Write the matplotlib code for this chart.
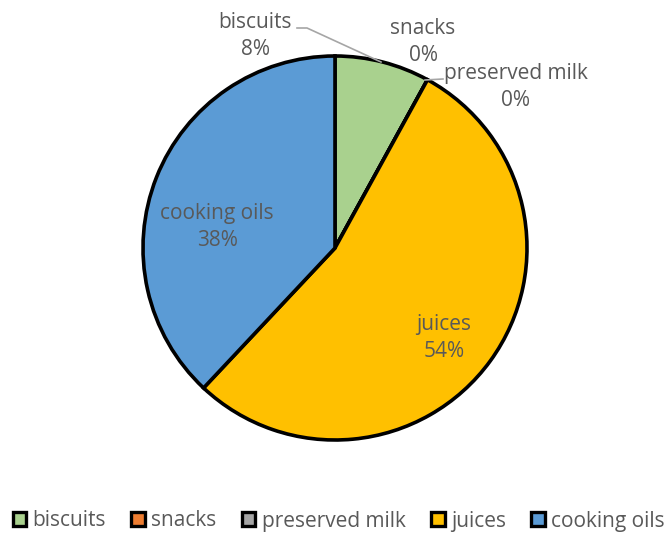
import matplotlib
matplotlib.use("Agg")
import matplotlib.pyplot as plt
from matplotlib.patches import Patch

categories = ["biscuits", "snacks", "preserved milk", "juices", "cooking oils"]
values = [8, 0, 0, 54, 38]
colors = ["#A9D18E", "#ED7D31", "#A5A5A5", "#FFC000", "#5B9BD5"]

W, H = 668, 533
fig = plt.figure(figsize=(W / 100, H / 100), dpi=100)
ax = fig.add_axes([0, 0, 1, 1])
ax.set_xlim(0, W)
ax.set_ylim(0, H)
ax.set_aspect("equal")
ax.axis("off")

cx, cy, r = 335, H - 248, 192
ax.pie(values, colors=colors, startangle=90, counterclock=False,
       center=(cx, cy), radius=r,
       wedgeprops=dict(edgecolor="black", linewidth=2.6))
ax.set_xlim(0, W)
ax.set_ylim(0, H)

txt = "#595959"
font = ["Open Sans", "DejaVu Sans"]
fs = 15
total = sum(values)
label_pos = {
    "biscuits": (255, 36),
    "snacks": (423, 42),
    "preserved milk": (516, 87),
    "juices": (444, 338),
    "cooking oils": (217, 227),
}
for cat, v in zip(categories, values):
    x, y = label_pos[cat]
    ax.text(x, H - y, f"{cat}\n{round(100 * v / total)}%", ha="center", va="center",
            fontsize=fs, color=txt, family=font, linespacing=1.4)

# leader lines for the small slices
ax.plot([297, 307, 381], [H - 28, H - 28, H - 62], color="#A6A6A6", lw=1.2)
ax.plot([425, 443], [H - 80, H - 79], color="#A6A6A6", lw=1.2)

handles = [Patch(facecolor=c, edgecolor="black", linewidth=2.4) for c in colors]
leg = fig.legend(handles, categories, loc="center", bbox_to_anchor=(0.507, 1 - 521 / H),
                 ncol=5, frameon=False, prop=dict(family=font, size=fs),
                 handlelength=0.65, handleheight=0.65, handletextpad=0.3,
                 columnspacing=1.22, labelcolor=txt)

fig.savefig("out.png", dpi=100)
